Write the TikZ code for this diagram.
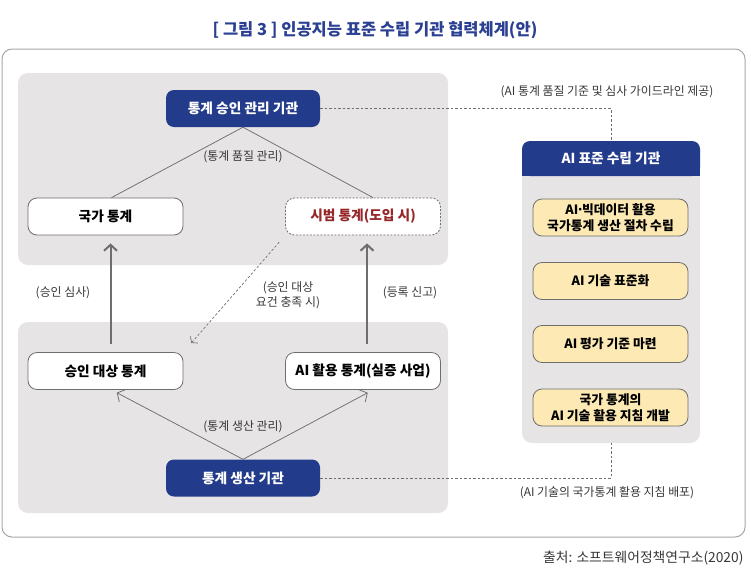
\documentclass[tikz,border=0pt]{standalone}
\usepackage{fontspec}
\setmainfont{Noto Sans CJK KR}
\usetikzlibrary{arrows.meta}
\definecolor{instblue}{RGB}{35,59,139}
\definecolor{titleblue}{RGB}{43,64,146}
\definecolor{areagray}{RGB}{230,228,229}
\definecolor{taskyellow}{RGB}{252,233,179}
\definecolor{pilotred}{RGB}{150,38,40}
\definecolor{linegray}{RGB}{110,110,110}
\definecolor{textgray}{RGB}{55,55,55}
\begin{document}
\begin{tikzpicture}[x=1pt,y=-1pt,
    inst/.style={fill=instblue,text=white,rounded corners=8pt,
      minimum width=154pt,minimum height=37pt,
      font=\bfseries\fontsize{13.7}{16}\selectfont},
    statbox/.style={draw=linegray,line width=0.8pt,fill=white,
      rounded corners=9pt,minimum width=155pt,minimum height=37pt,
      font=\bfseries\fontsize{13.7}{16}\selectfont},
    taskbox/.style={draw=linegray,line width=0.8pt,fill=taskyellow,
      rounded corners=9pt,minimum width=155pt,minimum height=37pt,
      align=center,font=\bfseries\fontsize{12.8}{16}\selectfont},
    lbl/.style={text=textgray,align=center,
      font=\fontsize{11.9}{15}\selectfont},
    link/.style={draw=linegray,line width=0.75pt},
    flow/.style={link,-{Straight Barb[length=6pt,width=14pt]}},
    upflow/.style={draw=linegray,line width=2pt,
      -{Straight Barb[length=6pt,width=13pt]}},
    dashlink/.style={draw=linegray,line width=0.7pt,
      dash pattern=on 2.5pt off 2pt}]
  \useasboundingbox (0,0) rectangle (751,581);
  % title and frame
  \node[font=\bfseries\fontsize{16.5}{19}\selectfont,text=titleblue] (title)
    at (375,30) {[ 그림 3 ] 인공지능 표준 수립 기관 협력체계(안)};
  \draw[gray!70,line width=1pt,rounded corners=10pt] (2,49) rectangle (745,537);
  % grey areas
  \fill[areagray,rounded corners=10pt] (18,73) rectangle (448,265);
  \fill[areagray,rounded corners=10pt] (18,322) rectangle (448,513);
  % approval side
  \node[inst] (approve) at (243,108.5) {통계 승인 관리 기관};
  \node[statbox] (natl) at (105.5,216.5) {국가 통계};
  \node[statbox,dash pattern=on 2pt off 1.5pt,text=pilotred] (pilot)
    at (363,216.5) {시범 통계(도입 시)};
  \draw[link] (approve.south) -- ([xshift=6pt]natl.north);
  \draw[link] (approve.south) -- ([xshift=10pt]pilot.north);
  \node[lbl] (quality) at (243,157) {(통계 품질 관리)};
  % production side
  \node[statbox] (target) at (105.5,371) {승인 대상 통계};
  \node[statbox] (aistat) at (363,371) {AI 활용 통계(실증 사업)};
  \node[inst] (produce) at (243,478) {통계 생산 기관};
  \draw[flow,shorten >=6pt] (produce.north) -- ([xshift=6pt]target.south);
  \draw[flow,shorten >=6pt] (produce.north) -- ([xshift=10pt]aistat.south);
  \node[lbl] (prodmgmt) at (243,427) {(통계 생산 관리)};
  % links between the areas
  \draw[upflow,shorten <=8pt,shorten >=8pt] ([xshift=5pt]target.north)
    -- ([xshift=5pt]natl.south);
  \draw[upflow,shorten <=8pt,shorten >=8pt] ([xshift=4pt]aistat.north)
    -- ([xshift=4pt]pilot.south);
  \draw[dashlink,-{Straight Barb[length=4pt,width=10pt]},
    shorten <=9pt,shorten >=12pt] (pilot.south west) -- (target.north east);
  \node[lbl] (review) at (63,293) {(승인 심사)};
  \node[lbl] (meets) at (288,295) {(승인 대상\\요건 충족 시)};
  \node[lbl] (register) at (410,293) {(등록 신고)};
  % standards body
  \node[fill=areagray,rounded corners=10pt,minimum width=178pt,
    minimum height=302pt] (panel) at (611,292) {};
  \fill[instblue] (522,158) rectangle (700,176);
  \node[inst,minimum width=178pt,minimum height=35pt] (stdorg)
    at (611,158.5) {AI 표준 수립 기관};
  \node[taskbox] (task1) at (610.5,217.5)
    {AI\kern-2pt·\kern-2pt빅데이터 활용\\국가통계 생산 절차 수립};
  \node[taskbox] (task2) at (610.5,281) {AI 기술 표준화};
  \node[taskbox] (task3) at (610.5,344) {AI 평가 기준 마련};
  \node[taskbox] (task4) at (610.5,407.5) {국가 통계의\\AI 기술 활용 지침 개발};
  % dashed guides
  \draw[dashlink] (approve.east) -- (approve.east -| stdorg.north)
    -- (stdorg.north);
  \draw[dashlink] (produce.east) -- (produce.east -| panel.south)
    -- (panel.south);
  \node[lbl] (guide) at (607,92) {(AI 통계 품질 기준 및 심사 가이드라인 제공)};
  \node[lbl] (deploy) at (607,493) {(AI 기술의 국가통계 활용 지침 배포)};
  % source
  \node[anchor=east,text=textgray,font=\fontsize{13.8}{16}\selectfont]
    (source) at (747,558) {출처: 소프트웨어정책연구소(2020)};
\end{tikzpicture}
\end{document}
